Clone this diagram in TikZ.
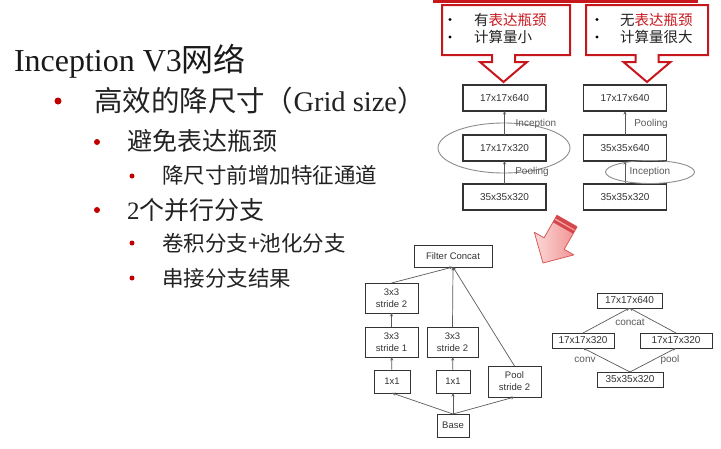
\documentclass[tikz,border=0pt]{standalone}
\usepackage{fontspec}
\setmainfont{Liberation Serif}
\newfontfamily\cjk{Noto Sans CJK SC}
\newfontfamily\arialfont{Liberation Sans}
\usetikzlibrary{arrows.meta,shapes.geometric}

\definecolor{calred}{HTML}{C8161D}
\definecolor{dotred}{HTML}{C00000}
\definecolor{inkgray}{HTML}{222222}
\definecolor{boxink}{HTML}{333333}
\definecolor{edgegray}{HTML}{5A5A5A}
\definecolor{ringgray}{HTML}{8C8C8C}
\definecolor{pinklight}{HTML}{FCD8D8}
\definecolor{pinkdeep}{HTML}{F09090}
\definecolor{pinkedge}{HTML}{D85A5A}
\definecolor{pinkband}{HTML}{D6474B}

\newcommand{\fsz}[2]{\fontsize{#1}{#2}\selectfont}

\begin{document}
\begin{tikzpicture}[x=1pt,y=-1pt,
  every node/.style={inner sep=0pt, outer sep=0pt},
  txtline/.style={anchor=base west, text=inkgray},
  dot/.style={circle, fill=dotred, draw=none},
  calbox/.style={draw=calred, line width=2pt, line join=miter, fill=white},
  fmap/.style={draw=black!80, line width=1.1pt, minimum width=83pt, minimum height=26pt,
               font=\arialfont\fsz{10}{12}, text=boxink},
  blk/.style={draw=black!80, line width=1pt, font=\arialfont\fsz{9.5}{12}, text=boxink, align=center},
  mini/.style={draw=black!80, line width=1pt, minimum height=15pt, font=\arialfont\fsz{10}{12}, text=boxink},
  lbl/.style={font=\arialfont\fsz{10}{12}, text=black!65},
  flow/.style={draw=edgegray, line width=0.7pt, -{Stealth[length=3.5pt,width=3pt]}},
  ring/.style={draw=ringgray, line width=0.9pt, ellipse},
]
\useasboundingbox (0,0) rectangle (721,448);

% ---------------- slide text ----------------
\node[txtline, text=black!90, font=\fsz{32}{32}] (title) at (14,71)
  {Inception V3{\cjk 网络}};

\node[dot, minimum size=7pt] (d1) at (58,101) {};
\node[txtline, font=\fsz{28.5}{28.5}] (t1) at (94,111)
  {{\cjk 高效的降尺寸（}Grid size{\cjk ）}};

\node[dot, minimum size=6pt] (d2) at (97,142) {};
\node[txtline, font=\cjk\fsz{25}{25}] (t2) at (127,150) {避免表达瓶颈};

\node[dot, minimum size=5pt] (d3) at (132,176) {};
\node[txtline, font=\cjk\fsz{21.5}{21.5}] (t3) at (162,183.5) {降尺寸前增加特征通道};

\node[dot, minimum size=6pt] (d4) at (97,210) {};
\node[txtline, font=\fsz{25}{25}] (t4) at (127,219) {2{\cjk 个并行分支}};

\node[dot, minimum size=5pt] (d5) at (132,243) {};
\node[txtline, font=\cjk\fsz{21.5}{21.5}] (t5) at (162,251) {卷积分支+池化分支};

\node[dot, minimum size=5pt] (d6) at (132,278) {};
\node[txtline, font=\cjk\fsz{21.5}{21.5}] (t6) at (162,286) {串接分支结果};

% ---------------- callouts ----------------
\coordinate (topL) at (433,1.5);
\coordinate (topR) at (698,1.5);
\draw[calred, line width=2.5pt] (topL) -- (topR);

\draw[calbox] (442,5) -- (570,5) -- (570,55) -- (515,55) -- (515,62) -- (527,62)
  -- (503.5,82) -- (480,62) -- (492,62) -- (492,55) -- (442,55) -- cycle;
\draw[calbox] (586,5) -- (708,5) -- (708,55) -- (658.5,55) -- (658.5,62) -- (670.5,62)
  -- (647,82) -- (623.5,62) -- (635.5,62) -- (635.5,55) -- (586,55) -- cycle;

\node[circle, fill=black, minimum size=3.4pt] (cb1) at (450,19.5) {};
\node[circle, fill=black, minimum size=3.4pt] (cb2) at (450,37) {};
\node[txtline, font=\cjk\fsz{14.5}{14.5}] (ct1) at (474,25) {有\textcolor{calred}{表达瓶颈}};
\node[txtline, font=\cjk\fsz{14.5}{14.5}] (ct2) at (474,42.5) {计算量小};

\node[circle, fill=black, minimum size=3.4pt] (cb3) at (597,19.5) {};
\node[circle, fill=black, minimum size=3.4pt] (cb4) at (597,37) {};
\node[txtline, font=\cjk\fsz{14.5}{14.5}] (ct3) at (620,25) {无\textcolor{calred}{表达瓶颈}};
\node[txtline, font=\cjk\fsz{14.5}{14.5}] (ct4) at (620,42.5) {计算量很大};

% ---------------- two reduction schemes ----------------
\node[ring, minimum width=132pt, minimum height=50pt] (ringA) at (504,148) {};
\node[fmap] (a3) at (504.5,98) {17x17x640};
\node[fmap] (a2) at (504.5,148) {17x17x320};
\node[fmap] (a1) at (504.5,197) {35x35x320};
\draw[flow] (a1) -- (a2);
\draw[flow] (a2) -- (a3);
\node[lbl] (la2) at (536,124) {Inception};
\node[lbl] (la1) at (532,172) {Pooling};

\node[fmap] (b3) at (625,98) {17x17x640};
\node[fmap] (b2) at (625,148) {35x35x640};
\node[fmap] (b1) at (625,197) {35x35x320};
\draw[flow] (b1) -- (b2);
\draw[flow] (b2) -- (b3);
\node[ring, minimum width=89pt, minimum height=23pt, font=\arialfont\fsz{10}{12}, text=black!65]
  (ringB) at (650,172) {Inception};
\node[lbl] (lb2) at (651,124) {Pooling};

% ---------------- pink pointer ----------------
\begin{scope}[shift={(567,221)}, x={(-0.496pt,-0.868pt)}, y={(0.868pt,-0.496pt)}]
  \shade[left color=pinklight, right color=pinkdeep, draw=pinkedge, line width=0.8pt, line join=round]
    (0,-11.6) -- (26,-11.6) -- (26,-22.8) -- (48.4,0) -- (26,22.8) -- (26,11.6) -- (0,11.6) -- cycle;
  \fill[pinkband] (0,-11.6) -- (3.5,-11.6) -- (3.5,11.6) -- (0,11.6) -- cycle;
  \fill[pinkband] (5,-11.6) -- (8,-11.6) -- (8,11.6) -- (5,11.6) -- cycle;
\end{scope}

% ---------------- grid-size reduction module ----------------
\node[blk, minimum width=78pt, minimum height=22pt] (fc) at (453,256) {Filter Concat};
\node[blk, minimum width=53pt, minimum height=30pt] (l3) at (391.5,298) {3x3\\stride 2};
\node[blk, minimum width=53pt, minimum height=30pt] (l2) at (391.5,342) {3x3\\stride 1};
\node[blk, minimum width=36pt, minimum height=23pt] (l1) at (392,381.5) {1x1};
\node[blk, minimum width=51pt, minimum height=30pt] (m2) at (452.5,342) {3x3\\stride 2};
\node[blk, minimum width=34pt, minimum height=23pt] (m1) at (453,381.5) {1x1};
\node[blk, minimum width=53pt, minimum height=31pt] (p1) at (514.5,381.5) {Pool\\stride 2};
\node[blk, minimum width=32pt, minimum height=23pt] (base) at (453,425.5) {Base};

\draw[flow] (base.north) -- (l1.south);
\draw[flow] (base.north) -- (m1.south);
\draw[flow] (base.north) -- (p1.south);
\draw[flow] (l1) -- (l2);
\draw[flow] (l2) -- (l3);
\draw[flow] (m1) -- (m2);
\draw[flow] (l3.north) -- (fc.south);
\draw[flow] (m2.north) -- (fc.south);
\draw[flow] (p1.north) -- (fc.south);

% ---------------- parallel conv / pool branches ----------------
\node[mini, minimum width=65pt] (c3) at (629.5,300.5) {17x17x640};
\node[mini, minimum width=62pt] (c2l) at (583,340.5) {17x17x320};
\node[mini, minimum width=72pt] (c2r) at (676,340.5) {17x17x320};
\node[mini, minimum width=66pt] (c1) at (630,379.5) {35x35x320};
\draw[flow] (c1.north) -- (c2l.south);
\draw[flow] (c1.north) -- (c2r.south);
\draw[flow] (c2l.north) -- (c3.south);
\draw[flow] (c2r.north) -- (c3.south);
\node[lbl] (lc) at (630,322) {concat};
\node[lbl] (lconv) at (585,360) {conv};
\node[lbl] (lpool) at (670,360) {pool};
\end{tikzpicture}
\end{document}
